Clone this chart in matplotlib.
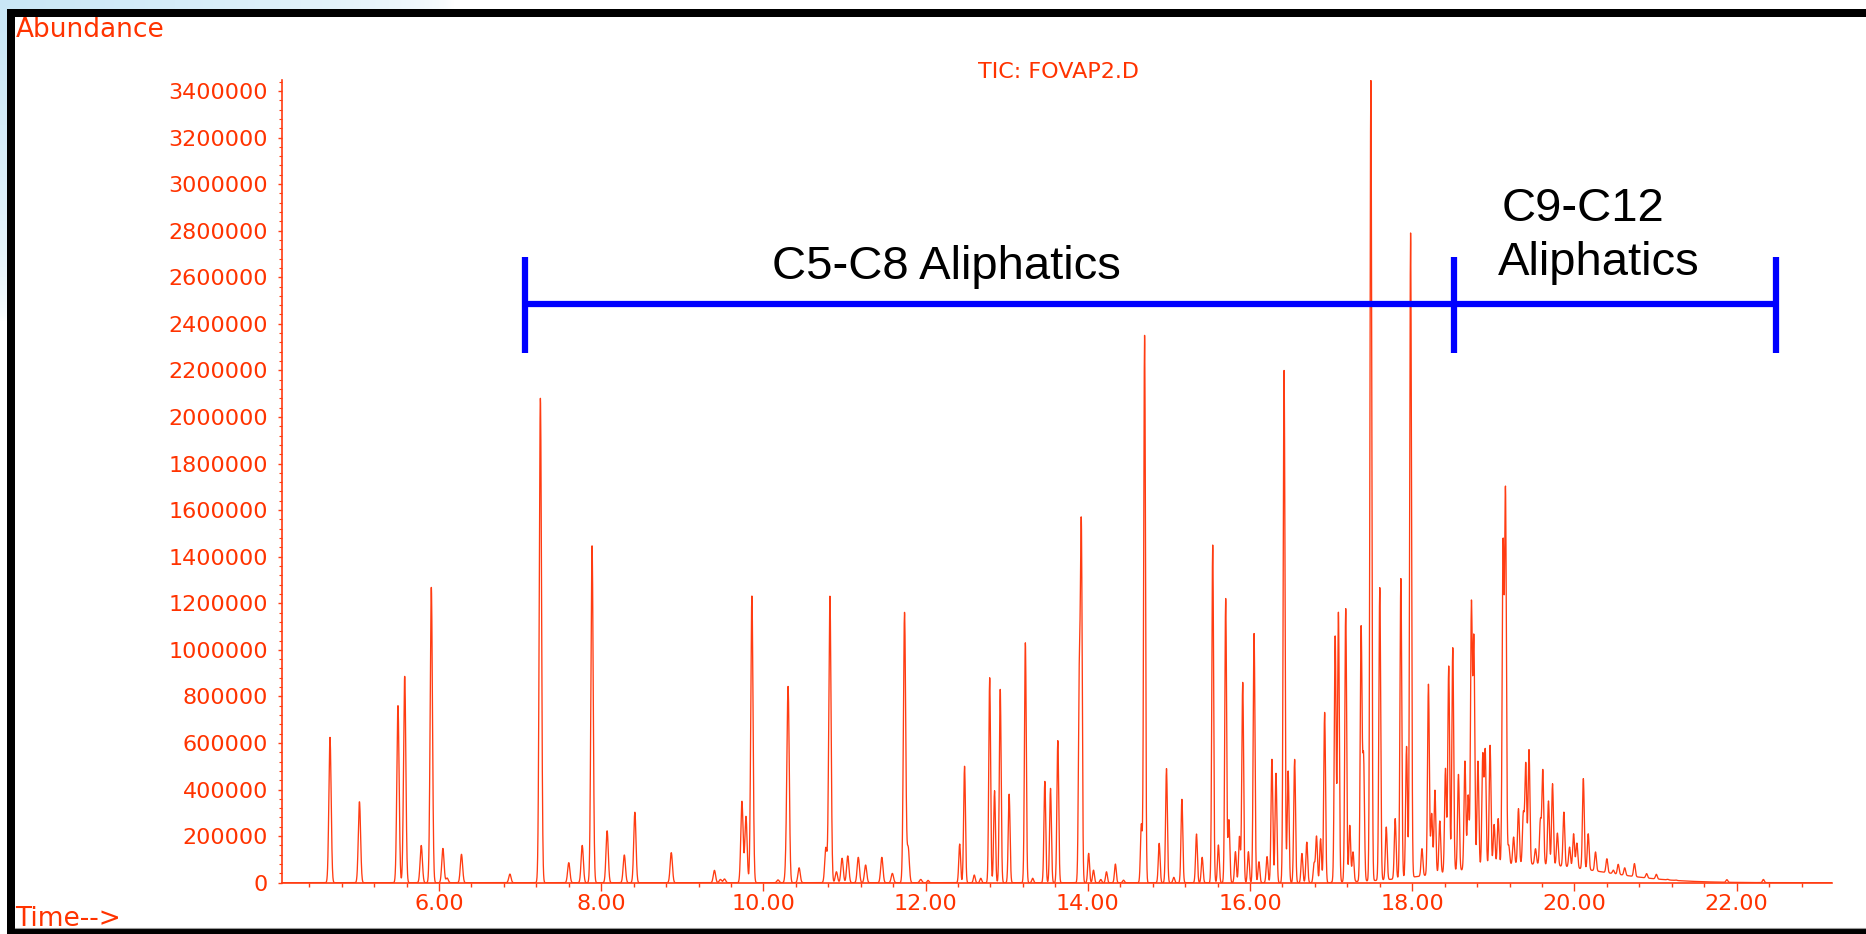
import numpy as np
import matplotlib
matplotlib.use("Agg")
import matplotlib.pyplot as plt
from matplotlib.patches import Rectangle
from matplotlib.lines import Line2D
from matplotlib.ticker import FixedLocator

# ---------------- data ----------------
peak_times = [
    4.656, 5.019, 5.494, 5.577, 5.781, 5.905, 6.048, 6.10, 6.277, 6.874,
    7.250, 7.600, 7.766, 7.887, 8.073, 8.285, 8.415, 8.864, 9.396, 9.47,
    9.52, 9.735, 9.785, 9.858, 10.18, 10.285, 10.305, 10.44, 10.77, 10.82,
    10.90, 10.97, 11.04, 11.17, 11.26, 11.46, 11.59, 11.74, 11.785, 11.94,
    12.03, 12.42, 12.48, 12.60, 12.68, 12.79, 12.85, 12.92, 13.03, 13.23,
    13.32, 13.47, 13.54, 13.63, 13.895, 13.92, 14.01, 14.07, 14.16, 14.23,
    14.34, 14.44, 14.66, 14.70, 14.88, 14.97, 15.06, 15.16, 15.34, 15.41,
    15.54, 15.61, 15.70, 15.74, 15.82, 15.87, 15.91, 15.98, 16.05, 16.11,
    16.21, 16.27, 16.32, 16.42, 16.47, 16.55, 16.64, 16.70, 16.79, 16.82,
    16.87, 16.92, 17.05, 17.09, 17.18, 17.23, 17.27, 17.37, 17.40, 17.49,
    17.60, 17.68, 17.79, 17.86, 17.93, 17.98, 18.12, 18.20, 18.24, 18.28,
    18.34, 18.41, 18.45, 18.50, 18.57, 18.65, 18.69, 18.73, 18.76, 18.81,
    18.87, 18.90, 18.96, 19.01, 19.06, 19.12, 19.15, 19.19, 19.25, 19.31,
    19.37, 19.40, 19.44, 19.52, 19.58, 19.61, 19.68, 19.73, 19.79, 19.87,
    19.94, 19.99, 20.03, 20.11, 20.17, 20.26, 20.40, 20.48, 20.54, 20.62,
    20.74, 20.89, 21.01, 21.15, 21.25, 21.88, 22.33,
]
peak_heights = [
    624000, 348000, 760000, 888000, 160000, 1271000, 147000, 20000, 122000, 37000,
    2080000, 86000, 160000, 1450000, 223000, 119000, 303000, 129000, 53000, 14000,
    16000, 350000, 285000, 1231000, 12000, 100000, 805000, 64000, 150000, 1230000,
    47000, 105000, 115000, 109000, 76000, 109000, 40000, 1160000, 150000, 14000,
    10000, 166000, 500000, 33000, 19000, 880000, 395000, 830000, 380000, 1030000,
    19000, 435000, 405000, 610000, 850000, 1500000, 126000, 54000, 14000, 47000,
    80000, 11000, 250000, 2350000, 169000, 490000, 23000, 358000, 209000, 109000,
    1450000, 162000, 1220000, 269000, 133000, 198000, 860000, 133000, 1070000, 90000,
    112000, 530000, 470000, 2200000, 480000, 530000, 126000, 175000, 83000, 200000,
    190000, 733000, 1058000, 1160000, 1177000, 246000, 132000, 1091000, 533000, 3445000,
    1267000, 239000, 275000, 1306000, 585000, 2790000, 146000, 852000, 296000, 397000,
    265000, 490000, 930000, 1009000, 465000, 522000, 375000, 1190000, 1040000, 522000,
    547000, 565000, 590000, 250000, 275000, 1440000, 1670000, 160000, 196000, 318000,
    296000, 511000, 571000, 146000, 265000, 482000, 351000, 425000, 213000, 303000,
    153000, 210000, 170000, 447000, 210000, 132000, 103000, 50000, 79000, 64000,
    82000, 39000, 36000, 8000, 6000, 13000, 14000,
]
# unresolved hump under the late peaks
hump_center = 19.4
hump_width = 0.9
hump_height = 80000

x_ticks = [6, 8, 10, 12, 14, 16, 18, 20, 22]
x_tick_labels = ["6.00", "8.00", "10.00", "12.00", "14.00", "16.00", "18.00", "20.00", "22.00"]
y_ticks = [0, 200000, 400000, 600000, 800000, 1000000, 1200000, 1400000, 1600000,
           1800000, 2000000, 2200000, 2400000, 2600000, 2800000, 3000000, 3200000, 3400000]
y_tick_labels = [str(v) for v in y_ticks]

region_bounds = [7.06, 18.52, 22.48]          # minutes
region_names = ["C5-C8 Aliphatics", "C9-C12", "Aliphatics"]

title_text = "TIC: FOVAP2.D"
y_title = "Abundance"
x_title = "Time-->"

# ---------------- build trace ----------------
W, H, DPI = 1866, 934, 100
XMIN, XMAX = 4.064, 23.176
YMAX = 3447000

t = np.arange(XMIN, XMAX, 0.002)
pt = np.array(peak_times)
ph = np.array(peak_heights, dtype=float)
hump = lambda x: hump_height * np.exp(-0.5 * ((x - hump_center) / hump_width) ** 2)
amp = np.maximum(ph - hump(pt), 0.3 * ph)
sig = np.where(pt < 12, 0.014, 0.011)
signal = hump(t) * (t > 17.0)
for c, a, s in zip(pt, amp, sig):
    signal = signal + a * np.exp(-0.5 * ((t - c) / s) ** 2)
signal = np.minimum(signal, YMAX)

ORANGE = "#FF3C12"
TXT = "#FF3300"

fig = plt.figure(figsize=(W / DPI, H / DPI), dpi=DPI)
fig.patch.set_facecolor("white")

# background (slide) axes in pixel coordinates
bg = fig.add_axes([0, 0, 1, 1], zorder=-10)
bg.set_xlim(0, W)
bg.set_ylim(H, 0)
bg.axis("off")
yy, xx = np.mgrid[0:H:4, 0:W:4]
a = np.clip(1 - np.sqrt((xx / 450.0) ** 2 + (yy / 320.0) ** 2), 0, 1) ** 0.5
blue = np.array([0.79, 0.905, 0.965])
img = 1 - a[..., None] * (1 - blue)
bg.imshow(img, extent=[0, W, H, 0], aspect="auto", interpolation="bilinear", zorder=0)
bg.add_patch(Rectangle((15, 17), W - 15, 910, facecolor="white", edgecolor="none", zorder=1))
bg.text(15, 926, x_title, color=TXT, fontsize=19, ha="left", va="baseline", zorder=2,
        family="DejaVu Sans")
bg.add_patch(Rectangle((7, 9), W - 7, 8, facecolor="black", edgecolor="none", zorder=5))
bg.add_patch(Rectangle((7, 9), 8, H - 9, facecolor="black", edgecolor="none", zorder=5))
bg.add_patch(Rectangle((7, 928), W - 7, 7, facecolor="black", edgecolor="none", zorder=5))
bg.add_line(Line2D([15, W], [927.5, 927.5], color="#9a9a9a", lw=0.8, zorder=6))
bg.text(16, 17, y_title, color=TXT, fontsize=19, ha="left", va="top", zorder=2,
        family="DejaVu Sans")
bg.text(1059, 72, title_text, color=TXT, fontsize=16, ha="center", va="center", zorder=2,
        family="DejaVu Sans")

# main chromatogram axes
left, right, bottom_px, top_px = 282, 1832, 882.7, 80
ax = fig.add_axes([left / W, (H - bottom_px) / H, (right - left) / W, (bottom_px - top_px) / H])
ax.set_facecolor("none")
ax.plot(t, signal, color=ORANGE, lw=0.95, zorder=3)
ax.set_xlim(XMIN, XMAX)
ax.set_ylim(0, YMAX)

for s in ["top", "right"]:
    ax.spines[s].set_visible(False)
for s in ["left", "bottom"]:
    ax.spines[s].set_color(ORANGE)
    ax.spines[s].set_linewidth(1.2)

ax.set_xticks(x_ticks)
ax.set_xticklabels(x_tick_labels)
ax.set_yticks(y_ticks)
ax.set_yticklabels(y_tick_labels)
ax.xaxis.set_minor_locator(FixedLocator(np.arange(4.4, 23.0, 0.4)))
ax.yaxis.set_minor_locator(FixedLocator(np.arange(0, 3440001, 40000)))
ax.tick_params(axis="x", which="major", length=5.8, width=1.0, color=ORANGE,
               labelcolor=TXT, labelsize=16, pad=2.5)
ax.tick_params(axis="x", which="minor", length=2.9, width=1.0, color=ORANGE)
ax.tick_params(axis="y", which="major", length=3.1, width=1.0, color=ORANGE,
               labelcolor=TXT, labelsize=16, pad=7.0)
ax.tick_params(axis="y", which="minor", length=1.9, width=0.8, color=ORANGE)
for lab in ax.get_xticklabels() + ax.get_yticklabels():
    lab.set_family("DejaVu Sans")

# blue region brackets (slide annotation)
BLUE = "#0000FF"
y_line, y_lo, y_hi = 2483000, 2273000, 2687000
ax.plot([region_bounds[0], region_bounds[2]], [y_line, y_line], color=BLUE, lw=4.5,
        solid_capstyle="butt", clip_on=False, zorder=5)
for xb in region_bounds:
    ax.plot([xb, xb], [y_lo, y_hi], color=BLUE, lw=4.5, solid_capstyle="butt",
            clip_on=False, zorder=5)
ax.text(12.26, 2592000, region_names[0], color="black", fontsize=34, ha="center",
        va="baseline", family="Liberation Sans", zorder=6)
ax.text(20.11, 2840000, region_names[1], color="black", fontsize=34, ha="center",
        va="baseline", family="Liberation Sans", zorder=6)
ax.text(20.30, 2610000, region_names[2], color="black", fontsize=34, ha="center",
        va="baseline", family="Liberation Sans", zorder=6)

fig.savefig("out.png", dpi=DPI)
